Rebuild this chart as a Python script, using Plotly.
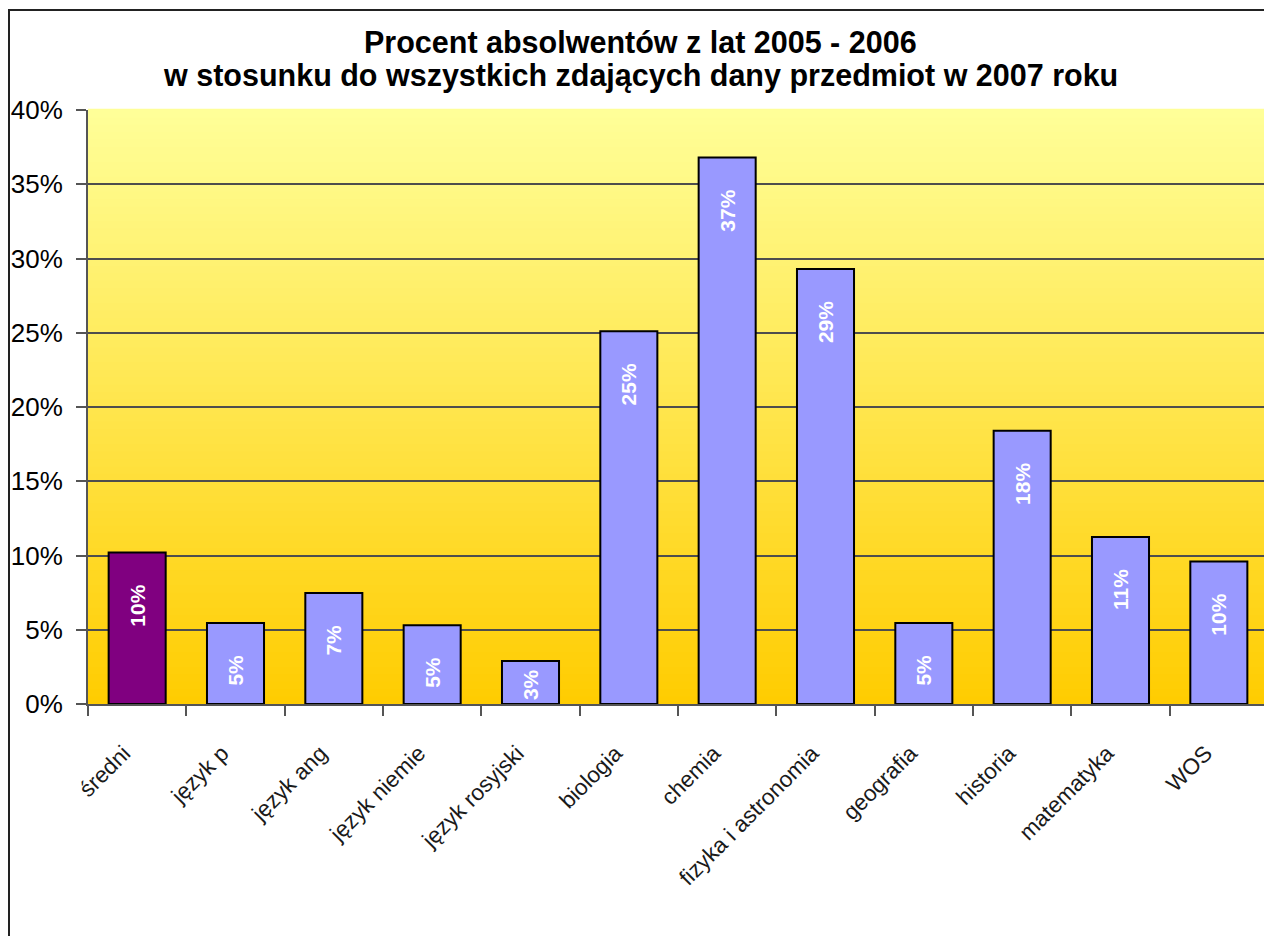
import plotly.graph_objects as go

categories = ["średni", "język p", "język ang", "język niemie", "język rosyjski",
              "biologia", "chemia", "fizyka i astronomia", "geografia",
              "historia", "matematyka", "WOS"]
values = [0.102, 0.0545, 0.0747, 0.053, 0.029, 0.251, 0.368, 0.293,
          0.0545, 0.184, 0.1125, 0.096]
bar_colors = ["#800080"] + ["#9999FF"] * 11
y_ticks = [0, 0.05, 0.10, 0.15, 0.20, 0.25, 0.30, 0.35, 0.40]
y_tick_labels = ["0%", "5%", "10%", "15%", "20%", "25%", "30%", "35%", "40%"]
title_lines = ["Procent absolwentów z lat 2005 - 2006",
               "w stosunku do wszystkich zdających dany przedmiot w 2007 roku"]

FONT = "Arial, 'Liberation Sans', sans-serif"

W, H = 1264, 928
L, R, T, B = 80, 4, 102, 232
PW, PH = W - L - R, H - T - B

labels = []
for v in values:
    pad = "\u00a0" * (5 if v >= 0.04 else 1)
    labels.append(f"{round(v*100)}%" + pad)

# trailing no-break spaces nudge the rotated labels left of the category centre
x_labels = [c + "\u00a0\u00a0\u00a0" for c in categories]

fig = go.Figure()
fig.add_trace(go.Bar(
    x=x_labels, y=values,
    marker=dict(color=bar_colors, line=dict(color="#000000", width=2)),
    text=labels,
    textposition="inside", insidetextanchor="end", textangle=-90,
    constraintext="none",
    textfont=dict(family=FONT, size=21, color="white", weight="bold"),
    cliponaxis=True,
))

# gradient background strips
shapes = []
n = 80
top = (255, 255, 153)
bot = (255, 204, 0)
for i in range(n):
    t = (i + 0.5) / n
    c = tuple(round(bot[k] + (top[k] - bot[k]) * t) for k in range(3))
    shapes.append(dict(type="rect", xref="paper", yref="paper",
                       x0=0, x1=1, y0=i / n, y1=(i + 1) / n + 0.002,
                       fillcolor=f"rgb{c}", line=dict(width=0), layer="below"))
# plot area right border
shapes.append(dict(type="line", xref="paper", yref="paper", x0=1, x1=1, y0=0, y1=1,
                   line=dict(color="#8a8a8a", width=2), layer="above"))
# outer chart border
shapes.append(dict(type="rect", xref="paper", yref="paper",
                   x0=(1 - L) / PW, x1=(W - 1 - L) / PW,
                   y0=-(B + 40) / PH, y1=1 + (T - 2) / PH,
                   line=dict(color="#222222", width=2), fillcolor="rgba(0,0,0,0)",
                   layer="above"))

# title lines (centres at 34 and 67 px from figure top)
annotations = []
for line, ypx in zip(title_lines, [34, 67]):
    annotations.append(dict(
        text=line, xref="paper", yref="paper",
        x=(632 - L) / PW, y=1 + (T - ypx) / PH,
        xanchor="center", yanchor="middle", showarrow=False,
        font=dict(family=FONT, size=30.5, color="#000000", weight="bold"),
    ))

fig.update_layout(
    width=W, height=H,
    margin=dict(l=L, r=R, t=T, b=B),
    paper_bgcolor="white", plot_bgcolor="rgba(0,0,0,0)",
    bargap=0.42,
    shapes=shapes,
    annotations=annotations,
    showlegend=False,
    font=dict(family=FONT),
)
fig.update_yaxes(
    range=[0, 0.40], tickvals=y_ticks, ticktext=y_tick_labels,
    showgrid=True, gridcolor="#4d4d4d", gridwidth=1.5,
    showline=True, linecolor="#555555", linewidth=2,
    ticks="outside", ticklen=10, tickcolor="#555555", tickwidth=2,
    tickfont=dict(family=FONT, size=26, color="#000000"),
    ticklabelstandoff=8,
    zeroline=False,
)
fig.update_xaxes(
    tickangle=-45, tickson="boundaries",
    showline=True, linecolor="#555555", linewidth=2,
    ticks="outside", ticklen=10, tickcolor="#555555", tickwidth=1.5,
    tickfont=dict(family=FONT, size=22.5, color="#1a1a1a"),
    ticklabelstandoff=12,
)

fig.write_html("out.html")
